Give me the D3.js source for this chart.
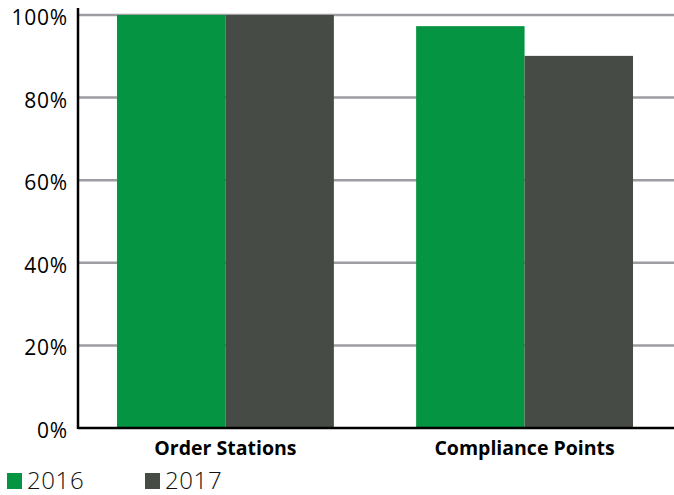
<!DOCTYPE html>
<html>
<head>
<meta charset="utf-8">
<script src="https://cdn.jsdelivr.net/npm/d3@7"></script>
<style>
  html, body { margin: 0; padding: 0; background: #fff; }
  svg { display: block; font-family: "Open Sans", "Noto Sans", sans-serif; }
</style>
</head>
<body>
<svg id="chart" width="674" height="495"></svg>
<script>
const categories = ["Order Stations", "Compliance Points"];
const seriesNames = ["2016", "2017"];
const values2016 = [100, 97.3];
const values2017 = [100, 90.1];
const yTicks = [0, 20, 40, 60, 80, 100];
const colors = ["#059441", "#474b45"];

const svg = d3.select("#chart");
const W = 674;
const plotTop = 15, plotBottom = 428, plotLeft = 78, plotRight = 674;

const x = d3.scaleBand().domain(categories).range([plotLeft - 2, plotRight]).paddingInner(0.275).paddingOuter(0.137);
const xs = d3.scaleBand().domain(seriesNames).range([0, x.bandwidth()]);
const y = d3.scaleLinear().domain([0, 100]).range([plotBottom, plotTop]);

// horizontal gridlines
svg.append("g").selectAll("line").data(yTicks.filter(d => d > 0)).join("line")
  .attr("x1", plotLeft).attr("x2", W)
  .attr("y1", d => y(d)).attr("y2", d => y(d))
  .attr("stroke", "#9e9ea2").attr("stroke-width", 2.5);

const data = categories.map((c, i) => ({ cat: c, vals: [values2016[i], values2017[i]] }));

// bars
const groups = svg.append("g").selectAll("g").data(data).join("g")
  .attr("transform", d => `translate(${x(d.cat)},0)`);
groups.selectAll("rect").data(d => d.vals.map((v, j) => ({ v, s: seriesNames[j], j })))
  .join("rect")
  .attr("x", d => xs(d.s))
  .attr("width", xs.bandwidth())
  .attr("y", d => y(d.v))
  .attr("height", d => y(0) - y(d.v))
  .attr("fill", d => colors[d.j]);

// axis lines
svg.append("line").attr("x1", plotLeft).attr("x2", plotLeft).attr("y1", 8).attr("y2", plotBottom + 1)
  .attr("stroke", "#000").attr("stroke-width", 2.5);
svg.append("line").attr("x1", plotLeft).attr("x2", W).attr("y1", plotBottom).attr("y2", plotBottom)
  .attr("stroke", "#000").attr("stroke-width", 2.5);

// y tick labels
svg.append("g").selectAll("text").data(yTicks).join("text")
  .attr("x", 68).attr("y", d => y(d) + 10)
  .attr("text-anchor", "end")
  .attr("font-size", 21).attr("letter-spacing", 0.8).attr("fill", "#000")
  .text(d => d + "%");

// category labels
svg.append("g").selectAll("text").data(categories).join("text")
  .attr("x", d => x(d) + x.bandwidth() / 2).attr("y", 455)
  .attr("text-anchor", "middle")
  .attr("font-size", 19.5).attr("font-weight", 700).attr("fill", "#000")
  .text(d => d);

// legend
const legendX = [7, 145];
const lg = svg.append("g").selectAll("g").data(seriesNames).join("g")
  .attr("transform", (d, i) => `translate(${legendX[i]},473)`);
lg.append("rect").attr("width", 15).attr("height", 16).attr("fill", (d, i) => colors[i]);
lg.append("text").attr("x", 20).attr("y", 16)
  .attr("font-size", 24).attr("letter-spacing", 0.6).attr("font-weight", 300).attr("fill", "#111")
  .text(d => d);
</script>
</body>
</html>
